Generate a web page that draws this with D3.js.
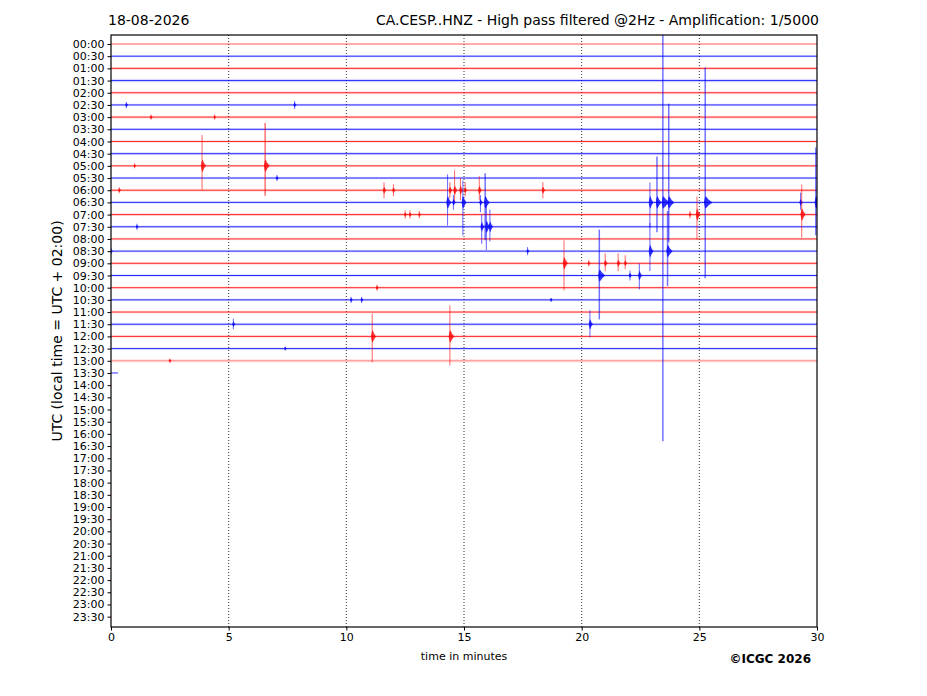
<!DOCTYPE html>
<html><head><meta charset="utf-8">
<script src="https://cdn.jsdelivr.net/npm/d3@7"></script>
<style>
body{margin:0;background:#fff}
text{font-family:"DejaVu Sans",sans-serif}
</style></head>
<body><div id="chart"></div>
<script>
// ---- data ----
const rowLabels = ["00:00","00:30","01:00","01:30","02:00","02:30","03:00","03:30","04:00","04:30",
"05:00","05:30","06:00","06:30","07:00","07:30","08:00","08:30","09:00","09:30",
"10:00","10:30","11:00","11:30","12:00","12:30","13:00","13:30","14:00","14:30",
"15:00","15:30","16:00","16:30","17:00","17:30","18:00","18:30","19:00","19:30",
"20:00","20:30","21:00","21:30","22:00","22:30","23:00","23:30"];
const xTicks = [0,5,10,15,20,25,30];
const gridMinutes = [5,10,15,20,25];
// minutes of data recorded in each row (rows 0..27)
const traceEnd = [30,30,30,30,30,30,30,30,30,30,30,30,30,30,30,30,30,30,30,30,30,30,30,30,30,30,30,0.3];
// per-row trace noise level (row units)
const traceNoise = [0.04,0.09,0.12,0.14,0.12,0.1,0.12,0.1,0.1,0.12,0.1,0.1,0.12,0.1,0.12,0.1,0.1,0.1,0.12,0.1,0.1,0.1,0.1,0.12,0.1,0.1,0.12,0.04];
// events: [row, minute, amplitude up, amplitude down] (row units)
const events = [
 [5,0.65,0.25,0.25],[5,7.8,0.33,0.33],
 [6,1.7,0.2,0.2],[6,4.4,0.2,0.2],
 [10,3.87,2.54,1.97],[10,6.55,3.52,2.46],[10,1.0,0.2,0.2],
 [11,7.05,0.25,0.25],
 [12,0.35,0.25,0.25],[12,11.6,0.66,0.66],[12,12.0,0.49,0.49],[12,14.4,0.66,0.66],[12,14.6,1.64,0.98],
 [12,14.85,0.98,0.82],[12,15.05,0.66,0.49],[12,15.65,1.15,0.82],[12,18.35,0.66,0.66],
 [13,14.3,2.3,1.9],[13,14.55,0.6,0.6],[13,14.95,1.8,2.7],[13,15.7,0.6,0.8],[13,15.9,2.4,3.1],
 [13,22.9,1.64,2.05],[13,23.2,3.77,2.46],[13,23.45,15.0,19.6],[13,23.7,8.1,3.28],
 [13,25.25,11.07,6.23],[13,29.3,0.8,0.6],[13,29.95,4.5,2.7],
 [14,12.5,0.33,0.33],[14,12.7,0.33,0.33],[14,13.1,0.3,0.3],[14,24.6,0.3,0.3],[14,24.9,1.48,2.05],[14,29.35,2.46,1.89],
 [15,1.1,0.25,0.25],[15,15.75,1.0,1.4],[15,15.95,1.8,1.9],[15,16.1,1.4,1.2],
 [17,0.0,0.25,0.25],[17,17.7,0.33,0.33],[17,22.9,2.3,1.64],[17,23.65,3.3,2.87],
 [18,19.25,1.89,2.21],[18,20.3,0.25,0.25],[18,21.0,0.82,0.66],[18,21.55,0.82,0.66],[18,21.85,0.66,0.49],
 [19,20.75,3.77,3.6],[19,22.05,0.41,0.41],[19,22.45,0.98,1.15],
 [20,11.3,0.25,0.25],
 [21,10.2,0.25,0.25],[21,10.65,0.25,0.25],[21,18.7,0.16,0.16],
 [23,5.2,0.45,0.41],[23,20.35,1.15,1.07],
 [24,11.1,1.89,2.13],[24,14.4,2.54,2.38],
 [25,7.4,0.16,0.16],
 [26,2.5,0.16,0.16]
];
const titleLeft = "18-08-2026";
const titleRight = "CA.CESP..HNZ - High pass filtered @2Hz - Amplification: 1/5000";
const xLabel = "time in minutes";
const yLabel = "UTC (local time = UTC + 02:00)";
const credit = "\u00A9ICGC 2026";

// ---- layout ----
const W = 927, H = 696;
const m = {left:111, right:110, top:35, bottom:69};
const svg = d3.select("#chart").append("svg").attr("width",W).attr("height",H);
const x = d3.scaleLinear().domain([0,30]).range([m.left, W-m.right]);
const y = d3.scaleLinear().domain([-0.74, 47.85]).range([m.top, H-m.bottom]);
const colorOf = i => i%2===0 ? "#ff0000" : "#0000ff";

svg.append("defs").append("clipPath").attr("id","clip").append("rect")
  .attr("x",x(0)).attr("y",y.range()[0]).attr("width",x(30)-x(0)).attr("height",y.range()[1]-y.range()[0]);

// grid
svg.append("g").selectAll("line").data(gridMinutes).join("line")
  .attr("x1",d=>x(d)).attr("x2",d=>x(d)).attr("y1",y.range()[0]).attr("y2",y.range()[1])
  .attr("stroke","#000").attr("stroke-width",0.8).attr("stroke-dasharray","1,2");

const plot = svg.append("g").attr("clip-path","url(#clip)");

// traces (baseline with noise band)
plot.append("g").selectAll("rect").data(traceEnd.map((e,i)=>({row:i,end:e})).filter(d=>d.row<27)).join("rect")
  .attr("x",x(0)).attr("width",d=>x(d.end)-x(0))
  .attr("y",d=>y(d.row - traceNoise[d.row])).attr("height",d=>y(d.row+traceNoise[d.row])-y(d.row-traceNoise[d.row]))
  .attr("fill",d=>colorOf(d.row)).attr("opacity",0.14);
plot.append("g").selectAll("line").data(traceEnd.map((e,i)=>({row:i,end:e}))).join("line")
  .attr("x1",x(0)).attr("x2",d=>x(d.end)).attr("y1",d=>y(d.row)).attr("y2",d=>y(d.row))
  .attr("stroke",d=>colorOf(d.row)).attr("stroke-width",1)
  .attr("opacity",d=>d.row===26?0.35:(d.row===0?0.55:0.8));

// events
const ev = plot.append("g").selectAll("g").data(events).join("g");
ev.append("line")
  .attr("x1",d=>x(d[1])).attr("x2",d=>x(d[1]))
  .attr("y1",d=>y(d[0]-d[2])).attr("y2",d=>y(d[0]+d[3]))
  .attr("stroke",d=>colorOf(d[0])).attr("stroke-width",d=>Math.max(d[2],d[3])>3?1.5:1.1)
  .attr("opacity",0.55);
ev.append("path")
  .attr("d",d=>{
    const r=d[0], t=d[1], a=Math.min(d[2],d[3]);
    const c=Math.min(0.5, 0.3*a+0.08);
    const dur = Math.min(0.3, 0.07+0.05*a);
    const pts=[[t-0.05,r],[t-0.01,r-c*0.8],[t+0.02,r-c],[t+dur*0.5,r-c*0.45],[t+dur,r],
               [t+dur*0.5,r+c*0.45],[t+0.02,r+c],[t-0.01,r+c*0.8]];
    return d3.line().curve(d3.curveCardinalClosed.tension(0.6)).x(p=>x(p[0])).y(p=>y(p[1]))(pts);
  })
  .attr("fill",d=>colorOf(d[0])).attr("opacity",0.8);

// axes
const yAxis = d3.axisLeft(y).tickValues(d3.range(rowLabels.length)).tickFormat(i=>rowLabels[i]).tickSize(3.5).tickPadding(3);
const gy = svg.append("g").attr("transform",`translate(${x(0)},0)`).call(yAxis);
gy.select(".domain").remove();
gy.selectAll("text").attr("font-size",11).attr("fill","#000").style("font-family","DejaVu Sans");
const xAxis = d3.axisBottom(x).tickValues(xTicks).tickSize(3.5).tickPadding(3);
const gx = svg.append("g").attr("transform",`translate(0,${y.range()[1]})`).call(xAxis);
gx.select(".domain").remove();
gx.selectAll("text").attr("font-size",11).attr("fill","#000").style("font-family","DejaVu Sans");

// frame
svg.append("rect").attr("x",x(0)).attr("y",y.range()[0]).attr("width",x(30)-x(0)).attr("height",y.range()[1]-y.range()[0])
  .attr("fill","none").attr("stroke","#000").attr("stroke-width",1.2);

// texts
svg.append("text").attr("x",108).attr("y",25).attr("font-size",14).text(titleLeft);
svg.append("text").attr("x",819).attr("y",25).attr("font-size",14).attr("text-anchor","end").text(titleRight);
svg.append("text").attr("x",x(15)).attr("y",660).attr("font-size",11).attr("text-anchor","middle").text(xLabel);
svg.append("text").attr("transform",`translate(62,${(y.range()[0]+y.range()[1])/2}) rotate(-90)`)
  .attr("font-size",14).attr("text-anchor","middle").text(yLabel);
svg.append("text").attr("x",811).attr("y",663).attr("font-size",12).attr("font-weight","bold")
  .attr("text-anchor","end").text(credit);
</script></body></html>
